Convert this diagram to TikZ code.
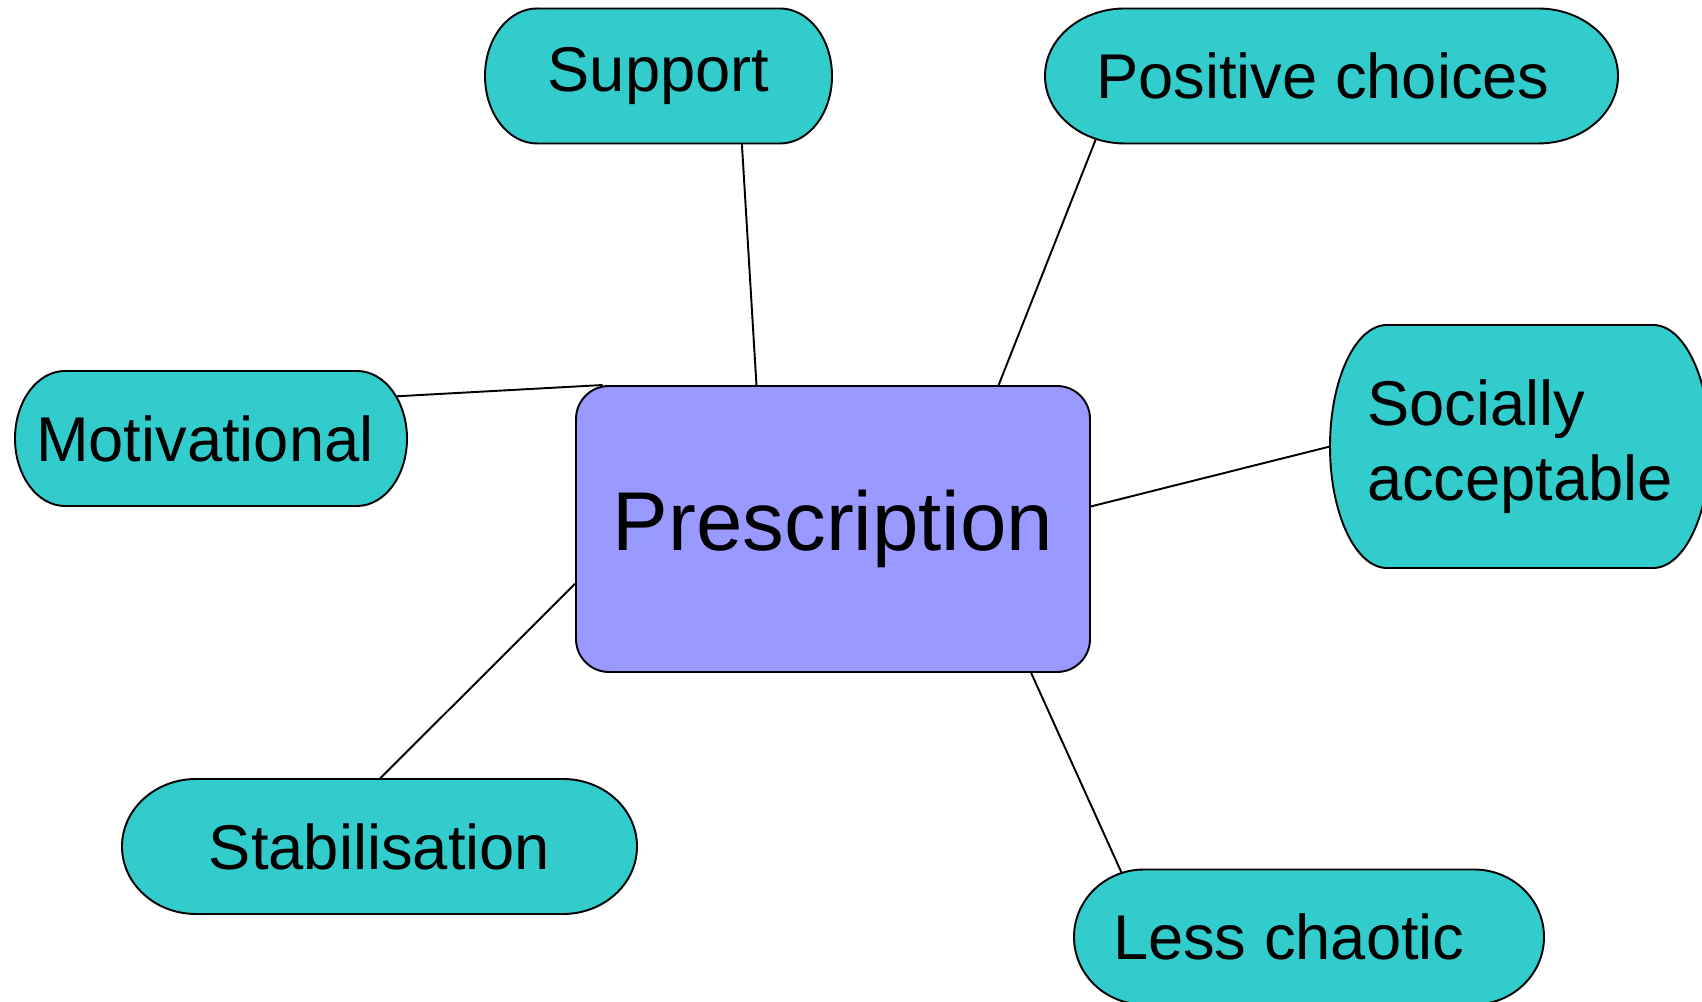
\documentclass[tikz,border=0pt]{standalone}
\usepackage{fontspec}
\setmainfont{Liberation Sans}
\usepackage{xcolor}
\usepackage{tikz}
\usetikzlibrary{backgrounds}
\definecolor{leafcol}{HTML}{33CCCC}
\definecolor{hubcol}{HTML}{9999FF}
\tikzset{leaf/.style={rectangle, inner sep=0pt, outer sep=0pt,
    minimum height=2.7cm,
    font=\fontsize{36}{43}\selectfont},
  hub/.style={rectangle, draw, fill=hubcol, line width=1.1pt,
    rounded corners=0.66cm,
    minimum width=10.28cm, minimum height=5.72cm,
    font=\fontsize{47.5}{57}\selectfont},
  link/.style={line width=1.1pt}}
% outline of a leaf: node name, x radius of the ends, y radius of the ends
\newcommand{\leafshape}[3]{%
  \draw[line width=1.1pt, fill=leafcol] ([xshift=#2]#1.north west) -- ([xshift=-#2]#1.north east)
    arc[start angle=90, end angle=-90, x radius=#2, y radius=#3]
    -- ([xshift=#2]#1.south west)
    arc[start angle=270, end angle=90, x radius=#2, y radius=#3] -- cycle;}

\begin{document}
\begin{tikzpicture}
\useasboundingbox (0,0) rectangle (34.04,20.04);

%%% centre
\node[hub] (prescr) at (16.66,9.46) {Prescription};

%%% leaves
\node[leaf, minimum width=6.94cm] (support) at (13.17,18.52) {Support};
\node[leaf, text width=9.42cm, inner xsep=1.02cm, align=flush left] (positive) at (26.63,18.52) {Positive choices};
\node[leaf, text width=7.0cm, inner xsep=0.42cm, align=flush left] (motiv) at (4.22,11.27) {Motivational};
\node[leaf, minimum width=7.6cm, minimum height=4.86cm, align=left] (social) at (30.40,11.11) {Socially\\acceptable};
\node[leaf, minimum width=10.3cm] (stab) at (7.59,3.11) {Stabilisation};
\node[leaf, text width=7.84cm, inner xsep=0.78cm, align=flush left] (chaotic) at (26.18,1.30) {Less chaotic};

\begin{scope}[on background layer]
% links
\draw[link] (support.-39) -- (prescr.118);
\draw[link] ([yshift=0.1cm]positive.-164) -- (prescr.41);
\draw[link] ([xshift=-0.4cm]motiv.12) -- (prescr.148);
\draw[link] (social.west) -- (prescr.5);
\draw[link] (stab.north) -- (prescr.-168);
\draw[link] ([yshift=-0.15cm]chaotic.160) -- (prescr.-36);

% leaf shapes
\leafshape{support}{1.04cm}{1.35cm}
\leafshape{positive}{1.6cm}{1.35cm}
\leafshape{motiv}{1.0cm}{1.35cm}
\leafshape{social}{1.14cm}{2.43cm}
\leafshape{stab}{1.48cm}{1.35cm}
\leafshape{chaotic}{1.4cm}{1.35cm}
\end{scope}
\end{tikzpicture}
\end{document}
